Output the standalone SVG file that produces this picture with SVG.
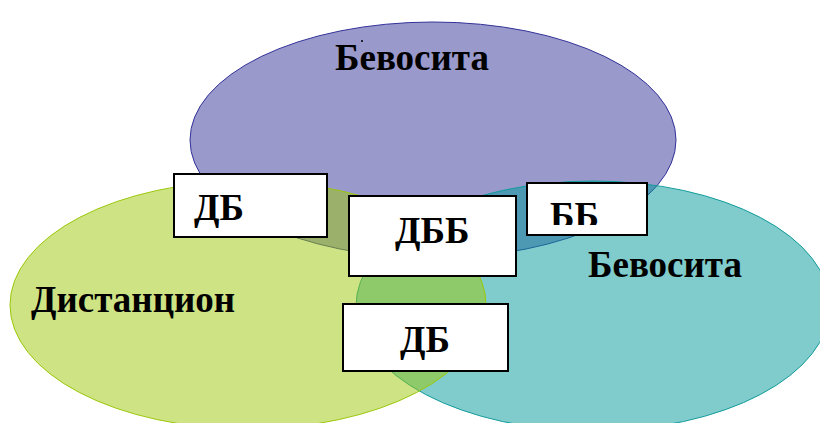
<svg xmlns="http://www.w3.org/2000/svg" width="820" height="423" viewBox="0 0 820 423">
<style>
.lbl{font-family:"Liberation Serif","Times New Roman",serif;font-weight:bold;font-size:37px;fill:#000}
.box{fill:#fff;stroke:#000;stroke-width:2}
</style>
<defs>
<clipPath id="bbclip"><rect x="527" y="183" width="120" height="42"/></clipPath>
</defs>
<rect width="820" height="423" fill="#fff"/>
<g id="set-top">
<ellipse cx="433" cy="140" rx="243" ry="118" fill="#333399" fill-opacity="0.5" stroke="#333399" stroke-width="1"/>
</g>
<g id="set-right">
<ellipse cx="593" cy="306" rx="237" ry="125" fill="#019797" fill-opacity="0.5" stroke="#129c9c" stroke-width="1"/>
</g>
<g id="set-left">
<ellipse cx="248" cy="305" rx="238" ry="124" fill="#9bc709" fill-opacity="0.5" stroke="#9bc80a" stroke-width="1"/>
</g>
<g id="labels">
<text class="lbl" x="335" y="70">Бевосита</text>
<circle cx="362" cy="41" r="1" fill="#000"/>
<text class="lbl" x="588" y="277">Бевосита</text>
<text class="lbl" x="31" y="312">Дистанцион</text>
</g>
<g id="connectors"></g>
<g id="box-db1">
<rect class="box" x="174" y="174" width="153" height="63"/>
<text class="lbl" x="194" y="220">ДБ</text>
</g>
<g id="box-dbb">
<rect class="box" x="349" y="196" width="167" height="80"/>
<text class="lbl" x="395" y="243">ДББ</text>
</g>
<g id="box-bb">
<rect class="box" x="527" y="183" width="120" height="52"/>
<text class="lbl" x="550" y="228" clip-path="url(#bbclip)">ББ</text>
</g>
<g id="box-db2">
<rect class="box" x="343" y="304" width="165" height="67"/>
<text class="lbl" x="400" y="352">ДБ</text>
</g>
</svg>
